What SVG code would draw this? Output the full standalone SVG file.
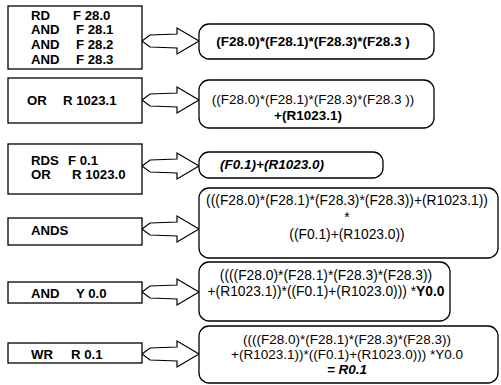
<svg xmlns="http://www.w3.org/2000/svg" width="501" height="385" viewBox="0 0 501 385">
<style>
.box{fill:#fff;stroke:#000;stroke-width:1.3}
.arr{fill:#fff;stroke:#000;stroke-width:1.2;stroke-linejoin:miter}
.lt{font-family:"Liberation Sans",Arial,sans-serif;font-size:13.2px;font-weight:bold;fill:#000}
.rt{font-family:"Liberation Sans",Arial,sans-serif;font-size:13.5px;fill:#000;text-anchor:middle}
.rb{font-size:13.8px}
.b{font-weight:bold}
.bi{font-weight:bold;font-style:italic}
</style>
<rect width="501" height="385" fill="#fff"/>
<g id="connectors">
<path class="arr" d="M142,41 L150,35 L177,34 L177,28 L199,41 L177,54 L177,48 L150,47 Z"/>
<path class="arr" d="M142,100 L150,94 L177,93 L177,87 L199,100 L177,113 L177,107 L150,106 Z"/>
<path class="arr" d="M142,166 L150,160 L177,159 L177,153 L199,166 L177,179 L177,173 L150,172 Z"/>
<path class="arr" d="M142,229 L150,223 L177,222 L177,216 L199,229 L177,242 L177,236 L150,235 Z"/>
<path class="arr" d="M142,292 L150,286 L177,285 L177,279 L199,292 L177,305 L177,299 L150,298 Z"/>
<path class="arr" d="M142,354 L150,348 L177,347 L177,341 L199,354 L177,367 L177,361 L150,360 Z"/>
</g>
<g id="n1">
<rect class="box" x="8" y="6" width="134" height="63"/>
<text class="lt" y="19.5"><tspan x="31">RD</tspan><tspan x="73">F 28.0</tspan></text>
<text class="lt" y="34.2"><tspan x="31">AND</tspan><tspan x="76">F 28.1</tspan></text>
<text class="lt" y="48.9"><tspan x="31">AND</tspan><tspan x="76">F 28.2</tspan></text>
<text class="lt" y="63.6"><tspan x="31">AND</tspan><tspan x="76">F 28.3</tspan></text>
</g>
<g id="n2">
<rect class="box" x="8" y="78" width="134" height="45"/>
<text class="lt" y="105"><tspan x="27">OR</tspan><tspan x="63">R 1023.1</tspan></text>
</g>
<g id="n3">
<rect class="box" x="8" y="144" width="134" height="50"/>
<text class="lt" y="164.5"><tspan x="31">RDS</tspan><tspan x="68">F 0.1</tspan></text>
<text class="lt" y="179.2"><tspan x="31">OR</tspan><tspan x="72">R 1023.0</tspan></text>
</g>
<g id="n4">
<rect class="box" x="8" y="218" width="134" height="27"/>
<text class="lt" x="31" y="235">ANDS</text>
</g>
<g id="n5">
<rect class="box" x="8" y="282" width="134" height="21"/>
<text class="lt" y="297.5"><tspan x="31">AND</tspan><tspan x="76">Y 0.0</tspan></text>
</g>
<g id="n6">
<rect class="box" x="8" y="343" width="134" height="20"/>
<text class="lt" y="358.5"><tspan x="31">WR</tspan><tspan x="71">R 0.1</tspan></text>
</g>
<g id="r1">
<rect class="box" x="199" y="24" width="235" height="35" rx="10"/>
<text class="rt b" x="313" y="46">(F28.0)*(F28.1)*(F28.3)*(F28.3 )</text>
</g>
<g id="r2">
<rect class="box" x="199" y="80" width="235" height="48" rx="10"/>
<text class="rt" x="313" y="104">((F28.0)*(F28.1)*(F28.3)*(F28.3 ))</text>
<text class="rt b" x="308" y="120">+(R1023.1)</text>
</g>
<g id="r3">
<rect class="box" x="199" y="152" width="184" height="26" rx="10"/>
<text class="rt bi" x="272" y="169">(F0.1)+(R1023.0)</text>
</g>
<g id="r4">
<rect class="box" x="199" y="188" width="299" height="70" rx="10"/>
<text class="rt rb" x="347" y="205">(((F28.0)*(F28.1)*(F28.3)*(F28.3))+(R1023.1))</text>
<text class="rt rb" x="347" y="222">*</text>
<text class="rt rb" x="347" y="239">((F0.1)+(R1023.0))</text>
</g>
<g id="r5">
<rect class="box" x="199" y="262" width="251" height="59" rx="10"/>
<text class="rt rb" x="326" y="280">((((F28.0)*(F28.1)*(F28.3)*(F28.3))</text>
<text class="rt rb" x="326" y="296">+(R1023.1))*((F0.1)+(R1023.0))) *<tspan class="b">Y0.0</tspan></text>
</g>
<g id="r6">
<rect class="box" x="199" y="326" width="299" height="57" rx="10"/>
<text class="rt" x="347" y="343.5">((((F28.0)*(F28.1)*(F28.3)*(F28.3))</text>
<text class="rt" x="347" y="358.7">+(R1023.1))*((F0.1)+(R1023.0))) *Y0.0</text>
<text class="rt bi" x="347" y="374">= R0.1</text>
</g>
</svg>
